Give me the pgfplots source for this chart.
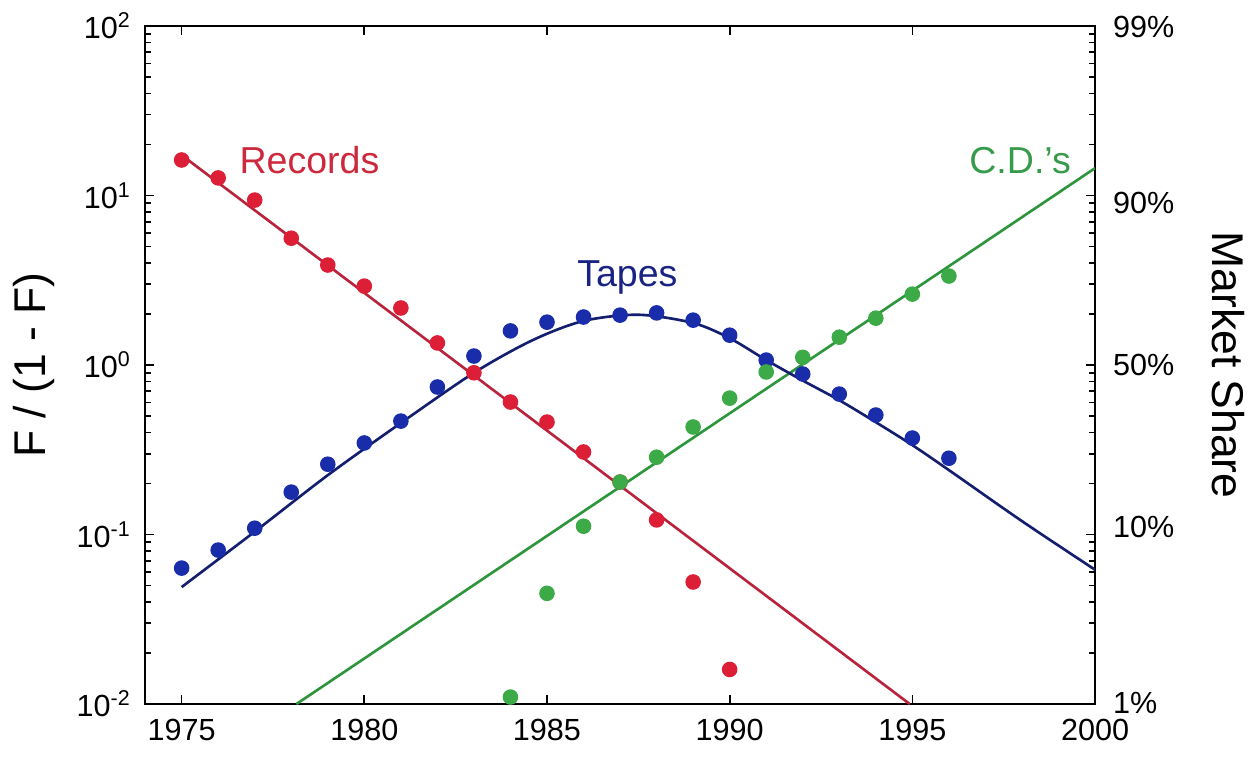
\documentclass[border=0pt]{standalone}
\usepackage{pgfplots}
\pgfplotsset{compat=1.18}
\usepackage{fontspec}
\setmainfont{Liberation Sans}
\usetikzlibrary{calc}
\definecolor{recm}{RGB}{221,30,55}
\definecolor{recl}{RGB}{185,35,60}
\definecolor{tapm}{RGB}{25,45,170}
\definecolor{tapl}{RGB}{20,30,110}
\definecolor{cdm}{RGB}{60,170,70}
\definecolor{cdl}{RGB}{45,150,60}
\definecolor{rect}{RGB}{205,40,60}
\definecolor{tapt}{RGB}{25,35,130}
\definecolor{cdt}{RGB}{55,155,75}
\begin{document}
\begin{tikzpicture}
\begin{axis}[
  name=main,
  scale only axis,
  width=341.7pt, height=243.9pt,
  xmin=1974, xmax=2000,
  ymode=log, ymin=0.01, ymax=100,
  axis line style={line width=0.8pt},
  xtick={1975,1980,1985,1990,1995,2000},
  xticklabels={1975,1980,1985,1990,1995,2000},
  ytick={0.01,0.1,1,10,100},
  yticklabels={10\textsuperscript{-2},10\textsuperscript{-1},10\textsuperscript{0},10\textsuperscript{1},10\textsuperscript{2}},
  tick align=inside,
  tick pos=both,
  major tick length=3.2pt,
  minor tick length=2pt,
  every tick/.style={black, line width=0.6pt},
  tick label style={font=\fontsize{11}{13}\selectfont},
  xticklabel style={yshift=-2pt},
  yticklabel style={xshift=-1.5pt},
  ylabel={F / (1 - F)},
  ylabel style={font=\fontsize{16}{18}\selectfont, at={(axis description cs:-0.117,0.5)}, anchor=center},
  clip mode=individual,
]
% Records line
\addplot[recl, line width=0.95pt] coordinates {(1975,17.3) (1994.93,0.01)};
% CDs line
\addplot[cdl, line width=0.95pt] coordinates {(1978.14,0.01) (2000,14.5)};
% Tapes curve
\addplot[tapl, line width=0.95pt, smooth] coordinates {
(1975,0.049) (1977,0.104) (1979,0.224) (1981,0.455) (1983,0.90)
(1984.6,1.40) (1986,1.82) (1987.5,1.98) (1989,1.77) (1990,1.44)
(1991,1.07) (1992,0.81) (1993,0.62) (1994,0.46) (1995,0.337)
(1996,0.24) (1998,0.12) (2000,0.062)};
% Records points
\addplot[only marks, mark=*, mark size=2.6pt, color=recm] coordinates {
(1975,16.2) (1976,12.7) (1977,9.4) (1978,5.6) (1979,3.89) (1980,2.92)
(1981,2.17) (1982,1.35) (1983,0.90) (1984,0.605) (1985,0.461) (1986,0.307)
(1987,0.204) (1988,0.122) (1989,0.0525) (1990,0.016)};
% Tapes points
\addplot[only marks, mark=*, mark size=2.6pt, color=tapm] coordinates {
(1975,0.0634) (1976,0.081) (1977,0.109) (1978,0.178) (1979,0.26) (1980,0.347)
(1981,0.467) (1982,0.742) (1983,1.13) (1984,1.59) (1985,1.79) (1986,1.92)
(1987,1.97) (1988,2.03) (1989,1.84) (1990,1.50) (1991,1.07) (1992,0.885)
(1993,0.674) (1994,0.507) (1995,0.371) (1996,0.282)};
% CDs points
\addplot[only marks, mark=*, mark size=2.6pt, color=cdm] coordinates {
(1984,0.011) (1985,0.045) (1986,0.112) (1987,0.204) (1988,0.286) (1989,0.431)
(1990,0.638) (1991,0.91) (1992,1.11) (1993,1.46) (1994,1.89) (1995,2.62) (1996,3.35)};
\node[rect, font=\fontsize{13.5}{15}\selectfont] at (axis cs:1978.5,16.2) {Records};
\node[tapt, font=\fontsize{13.5}{15}\selectfont] at (axis cs:1987.2,3.3) {Tapes};
\node[cdt, font=\fontsize{13.5}{15}\selectfont] at (axis cs:1997.95,16) {C.D.'s};
\end{axis}
\begin{axis}[
  scale only axis,
  width=341.7pt, height=243.9pt,
  xmin=1974, xmax=2000,
  ymode=log, ymin=0.01, ymax=100,
  hide x axis,
  axis y line*=right,
  y axis line style={draw=none},
  ytick={0.010101,0.11111,1,9,99},
  yticklabels={1\%,10\%,50\%,90\%,99\%},
  ytick style={draw=none},
  minor ytick={},
  yticklabel style={font=\fontsize{11}{13}\selectfont, xshift=3pt},
  ylabel={Market Share},
  ylabel style={font=\fontsize{16}{18}\selectfont, at={(axis description cs:1.14,0.5)}, anchor=center, rotate=180},
]
\addplot[draw=none] coordinates {(1975,1)};
\end{axis}
\pgfresetboundingbox
\path[use as bounding box] ($(main.south west)+(-52.2pt,-20.1pt)$) rectangle ($(main.north east)+(56.1pt,9.35pt)$);
\end{tikzpicture}
\end{document}
